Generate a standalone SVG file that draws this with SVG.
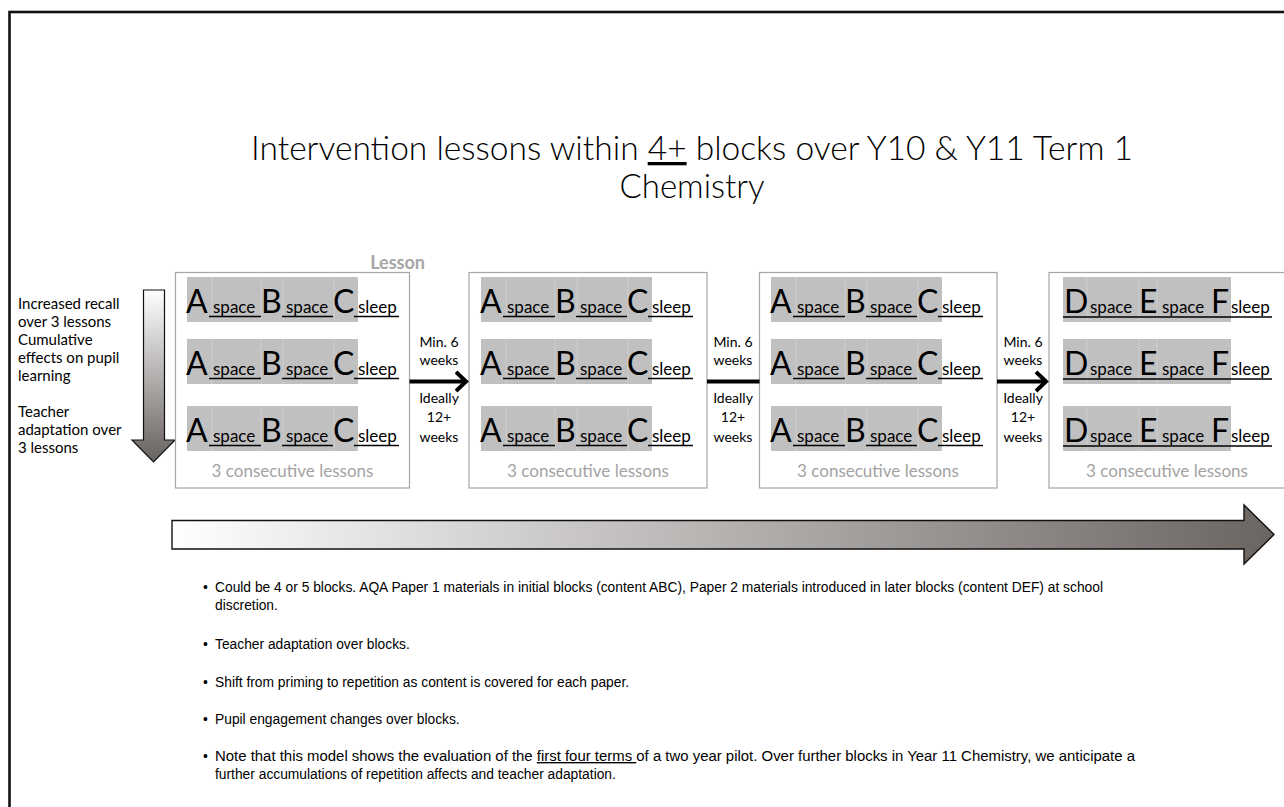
<svg xmlns="http://www.w3.org/2000/svg" xmlns:xlink="http://www.w3.org/1999/xlink" width="1284" height="807" viewBox="0 0 1284 807">
<style>
.lbl{font-family:Lato,"Open Sans","Liberation Sans",sans-serif;fill:#000}
.big{font-size:32px}
.sm{font-size:17px}
.side{font-size:15px}
.gap{font-size:14px;text-anchor:middle}
.cons{font-size:17px;fill:#a3a3a3;text-anchor:middle}
.blk{fill:#fff;stroke:#a6a6a6;stroke-width:1.2}
.band{fill:#c0c0c0}
.sub{stroke:#cdcdcd;stroke-width:1}
.ul{stroke:#000;stroke-width:1.6}
.conn{stroke:#000;stroke-width:4;fill:none}
.bul{font-family:"Liberation Sans",Arial,sans-serif;font-size:13.8px;fill:#000}
</style>
<defs>
<linearGradient id="gDown" x1="0" y1="0" x2="0" y2="1">
<stop offset="0" stop-color="#ffffff"/>
<stop offset="1" stop-color="#67615f"/>
</linearGradient>
<linearGradient id="gRight" x1="0" y1="0" x2="1" y2="0">
<stop offset="0" stop-color="#ffffff"/>
<stop offset="1" stop-color="#6b6562"/>
</linearGradient>
<marker id="ah" markerUnits="userSpaceOnUse" viewBox="0 0 14 24" refX="11" refY="12" markerWidth="14" markerHeight="24" orient="auto">
<path d="M1,2.5 L11,12 L1,21.5" fill="none" stroke="#000" stroke-width="4"/>
</marker>
<g id="rowABC">
<rect class="band" x="0" y="0" width="171" height="45"/>
<line class="sub" x1="25" y1="0" x2="25" y2="45"/>
<line class="sub" x1="74" y1="0" x2="74" y2="45"/>
<line class="sub" x1="96" y1="0" x2="96" y2="45"/>
<line class="sub" x1="147" y1="0" x2="147" y2="45"/>
<text class="lbl big" x="-1" y="36">A</text>
<text class="lbl sm" x="26" y="36">space</text>
<text class="lbl big" x="74" y="36">B</text>
<text class="lbl sm" x="99" y="36">space</text>
<text class="lbl big" x="146" y="36">C</text>
<text class="lbl sm" x="171" y="36">sleep</text>
<line class="ul" x1="22" y1="39.5" x2="74" y2="39.5"/>
<line class="ul" x1="95" y1="39.5" x2="146" y2="39.5"/>
<line class="ul" x1="167" y1="39.5" x2="212" y2="39.5"/>
</g>
<g id="rowDEF">
<rect class="band" x="0" y="0" width="168" height="45"/>
<line class="sub" x1="24" y1="0" x2="24" y2="45"/>
<line class="sub" x1="76" y1="0" x2="76" y2="45"/>
<line class="sub" x1="94" y1="0" x2="94" y2="45"/>
<text class="lbl big" x="1" y="36">D</text>
<text class="lbl sm" x="27" y="36">space</text>
<text class="lbl big" x="76" y="36">E</text>
<text class="lbl sm" x="99" y="36">space</text>
<text class="lbl big" x="148" y="36">F</text>
<text class="lbl sm" x="168" y="36">sleep</text>
<line class="ul" x1="0" y1="40" x2="209" y2="40"/>
</g>
</defs>

<rect x="0" y="0" width="1284" height="807" fill="#fff"/>
<rect x="9.5" y="12" width="1300" height="820" fill="#fff" stroke="#111" stroke-width="2.6"/>

<g id="title">
<text class="lbl" x="251" y="160" font-size="33" font-weight="300" textLength="882" lengthAdjust="spacingAndGlyphs">Intervention lessons within <tspan text-decoration="underline">4+</tspan> blocks over Y10 &amp; Y11 Term 1</text>
<text class="lbl" x="692" y="198" font-size="33" font-weight="300" text-anchor="middle">Chemistry</text>
</g>

<g id="side-notes">
<text class="lbl side" x="18" y="309">Increased recall</text>
<text class="lbl side" x="18" y="327">over 3 lessons</text>
<text class="lbl side" x="18" y="345">Cumulative</text>
<text class="lbl side" x="18" y="363">effects on pupil</text>
<text class="lbl side" x="18" y="381">learning</text>
<text class="lbl side" x="18" y="417">Teacher</text>
<text class="lbl side" x="18" y="435">adaptation over</text>
<text class="lbl side" x="18" y="453">3 lessons</text>
</g>

<g id="down-arrow">
<path d="M143.5,290 H164.5 V440 H175 L153.5,462 L132,440 H143.5 Z" fill="url(#gDown)" stroke="#111" stroke-width="1.2"/>
</g>

<g id="lesson-label">
<text class="lbl" x="425" y="269" font-size="18" font-weight="700" text-anchor="end" style="fill:#a6a6a6">Lesson</text>
</g>

<g id="block1">
<rect class="blk" x="175.5" y="272.5" width="234" height="215.5"/>
<use xlink:href="#rowABC" x="187" y="277"/>
<use xlink:href="#rowABC" x="187" y="339"/>
<use xlink:href="#rowABC" x="187" y="406"/>
<text class="lbl cons" x="292.5" y="477">3 consecutive lessons</text>
</g>

<g id="block2">
<rect class="blk" x="469" y="272.5" width="238" height="215.5"/>
<use xlink:href="#rowABC" x="481" y="277"/>
<use xlink:href="#rowABC" x="481" y="339"/>
<use xlink:href="#rowABC" x="481" y="406"/>
<text class="lbl cons" x="588" y="477">3 consecutive lessons</text>
</g>

<g id="block3">
<rect class="blk" x="759.5" y="272.5" width="237.5" height="215.5"/>
<use xlink:href="#rowABC" x="771" y="277"/>
<use xlink:href="#rowABC" x="771" y="339"/>
<use xlink:href="#rowABC" x="771" y="406"/>
<text class="lbl cons" x="878" y="477">3 consecutive lessons</text>
</g>

<g id="block4">
<rect class="blk" x="1049" y="272.5" width="260" height="215.5"/>
<use xlink:href="#rowDEF" x="1063" y="277"/>
<use xlink:href="#rowDEF" x="1063" y="339"/>
<use xlink:href="#rowDEF" x="1063" y="406"/>
<text class="lbl cons" x="1167" y="477">3 consecutive lessons</text>
</g>

<g id="connectors">
<line class="conn" x1="409.5" y1="381.5" x2="466" y2="381.5" marker-end="url(#ah)"/>
<line class="conn" x1="707" y1="381.5" x2="759.5" y2="381.5"/>
<line class="conn" x1="997" y1="381.5" x2="1046" y2="381.5" marker-end="url(#ah)"/>
</g>

<g id="gap-labels">
<text class="lbl gap" x="439" y="347">Min. 6</text>
<text class="lbl gap" x="439" y="365">weeks</text>
<text class="lbl gap" x="439" y="403">Ideally</text>
<text class="lbl gap" x="439" y="422">12+</text>
<text class="lbl gap" x="439" y="442">weeks</text>
<text class="lbl gap" x="733" y="347">Min. 6</text>
<text class="lbl gap" x="733" y="365">weeks</text>
<text class="lbl gap" x="733" y="403">Ideally</text>
<text class="lbl gap" x="733" y="422">12+</text>
<text class="lbl gap" x="733" y="442">weeks</text>
<text class="lbl gap" x="1023" y="347">Min. 6</text>
<text class="lbl gap" x="1023" y="365">weeks</text>
<text class="lbl gap" x="1023" y="403">Ideally</text>
<text class="lbl gap" x="1023" y="422">12+</text>
<text class="lbl gap" x="1023" y="442">weeks</text>
</g>

<g id="timeline-arrow">
<path d="M172,520.5 H1244 V505 L1274,534.5 L1244,564 V549 H172 Z" fill="url(#gRight)" stroke="#111" stroke-width="1.4"/>
</g>

<g id="bullets">
<text class="bul" x="203" y="592">•</text>
<text class="bul" x="215" y="592" textLength="888" lengthAdjust="spacingAndGlyphs">Could be 4 or 5 blocks.  AQA Paper 1 materials in initial blocks (content ABC), Paper 2 materials introduced in later blocks (content DEF) at school</text>
<text class="bul" x="215" y="610">discretion.</text>
<text class="bul" x="203" y="649">•</text>
<text class="bul" x="215" y="649">Teacher adaptation over blocks.</text>
<text class="bul" x="203" y="687">•</text>
<text class="bul" x="215" y="687">Shift from priming to repetition as content is covered for each paper.</text>
<text class="bul" x="203" y="724">•</text>
<text class="bul" x="215" y="724">Pupil engagement changes over blocks.</text>
<text class="bul" x="203" y="761">•</text>
<text class="bul" x="215" y="761" textLength="920" lengthAdjust="spacingAndGlyphs">Note that this model shows the evaluation of the <tspan text-decoration="underline">first four terms </tspan>of a two year pilot.  Over further blocks in Year 11 Chemistry, we anticipate a</text>
<text class="bul" x="215" y="779">further accumulations of repetition affects and teacher adaptation.</text>
</g>
</svg>
